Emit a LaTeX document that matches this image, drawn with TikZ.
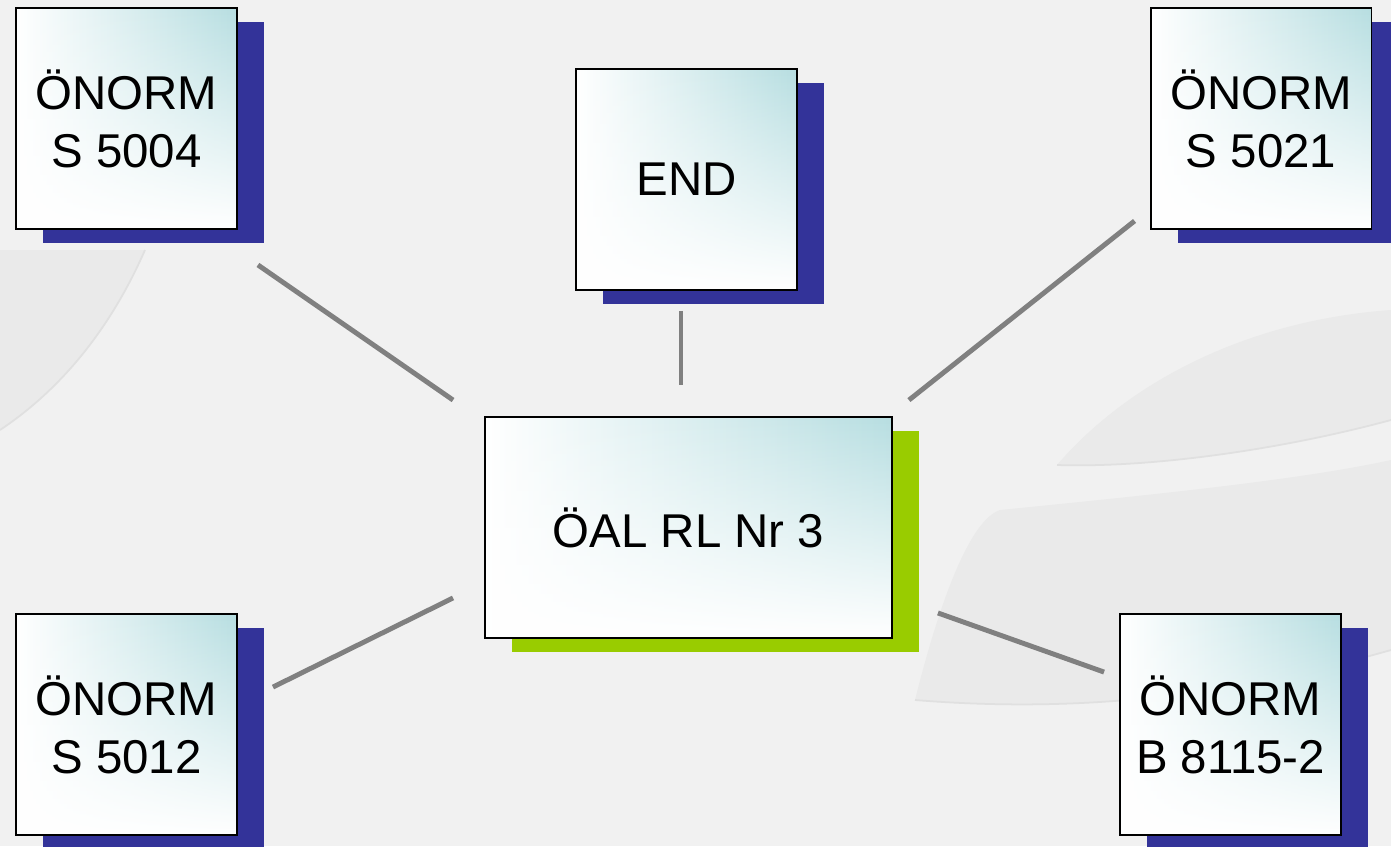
\documentclass[tikz,border=0pt]{standalone}
\usepackage{fontspec}
\setmainfont{Liberation Sans}
\usetikzlibrary{shadows,fadings}
\definecolor{BGgray}{HTML}{F1F1F1}
\definecolor{SWgray}{HTML}{EAEAEA}
\definecolor{SWedge}{HTML}{E0E0E0}
\definecolor{BOXteal}{HTML}{B7DEE1}
\definecolor{SHnavy}{HTML}{333399}
\definecolor{SHgreen}{HTML}{99CC00}
\definecolor{LNgray}{HTML}{808080}

\tikzset{
  boxfill/.style={path picture={
    \shade[left color=white,right color=BOXteal] (path picture bounding box.south west) rectangle (path picture bounding box.north east);
    \fill[white,path fading=north] (path picture bounding box.south west) rectangle (path picture bounding box.north east);}},
  normbox/.style={draw=black,line width=1.1pt,boxfill,minimum width=4.42cm,minimum height=4.42cm,
    align=center,inner sep=0pt,font=\fontsize{27}{33}\selectfont,
    general shadow={fill=#1,shadow xshift=0.54cm,shadow yshift=-0.28cm}},
  normbox/.default=SHnavy,
  link/.style={draw=LNgray,line width=2.8pt}
}

\begin{document}
\begin{tikzpicture}[x=0.02cm,y=-0.02cm]
  % background
  \useasboundingbox (0,0) rectangle (1391,846);
  \fill[BGgray] (0,0) rectangle (1391,846);
  \fill[SWgray] (0,250) -- (145,250) .. controls (110,330) and (60,390) .. (0,430) -- cycle;
  \draw[SWedge,line width=1pt] (145,250) .. controls (110,330) and (60,390) .. (0,430);
  \fill[SWgray] (1057,465) .. controls (1130,380) and (1250,320) .. (1391,310) -- (1391,420)
    .. controls (1280,450) and (1150,468) .. (1057,465) -- cycle;
  \draw[SWedge,line width=1pt] (1057,465) .. controls (1150,468) and (1280,450) .. (1391,420);
  \fill[SWgray] (915,700) .. controls (940,600) and (970,520) .. (1000,510)
    .. controls (1150,495) and (1300,480) .. (1391,460) -- (1391,650)
    .. controls (1250,690) and (1100,715) .. (915,700) -- cycle;
  \draw[SWedge,line width=1pt] (915,700) .. controls (1100,715) and (1250,690) .. (1391,650);

  % boxes
  \node[normbox] (tlnorm) at (126.5,118.5) {ÖNORM\\S 5004};
  \node[normbox] (endnorm) at (686.5,179.5) {END};
  \node[normbox] (trnorm) at (1261,118.5) {ÖNORM\\S 5021};
  \node[normbox] (blnorm) at (126.5,724.5) {ÖNORM\\S 5012};
  \node[normbox] (brnorm) at (1230.5,724.5) {ÖNORM\\B 8115-2};
  \node[normbox=SHgreen,minimum width=8.14cm] (oal) at (688.5,527.5) {ÖAL RL Nr 3};

  % links
  \draw[link] ([shift={(20,35)}]tlnorm.south east) -- ([shift={(-31,-16)}]oal.north west);
  \draw[link] ([shift={(-5.5,20)}]endnorm.south) -- ([shift={(-7.5,-31)}]oal.north);
  \draw[link] ([shift={(-15,-9)}]trnorm.south west) -- ([shift={(16,-16)}]oal.north east);
  \draw[link] ([shift={(-31,-41)}]oal.south west) -- ([shift={(35,74)}]blnorm.north east);
  \draw[link] ([shift={(45,-26)}]oal.south east) -- ([shift={(-15,59)}]brnorm.north west);
\end{tikzpicture}
\end{document}
